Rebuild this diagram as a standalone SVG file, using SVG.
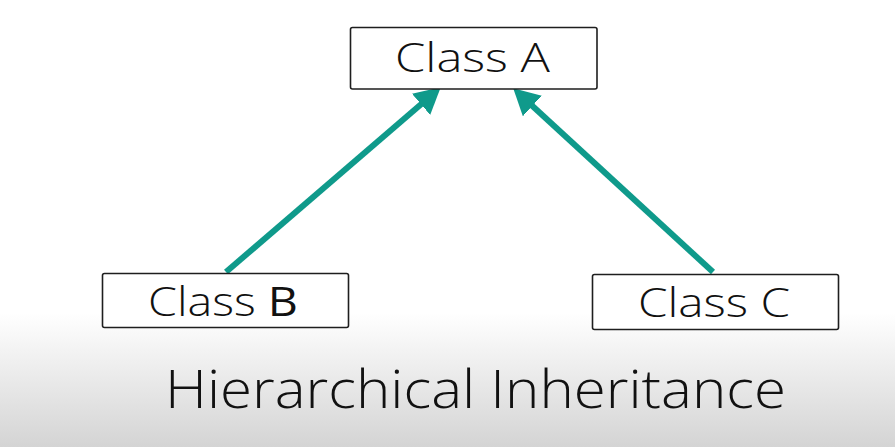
<svg xmlns="http://www.w3.org/2000/svg" width="895" height="447" viewBox="0 0 895 447">
  <defs>
    <linearGradient id="bg" gradientUnits="userSpaceOnUse" x1="0" y1="0" x2="0" y2="447">
      <stop offset="0.70" stop-color="#ffffff"/>
      <stop offset="1" stop-color="#d4d4d4"/>
    </linearGradient>
    <marker id="head" markerUnits="userSpaceOnUse" viewBox="0 0 26 28" refX="15" refY="14" markerWidth="26" markerHeight="28" orient="auto">
      <path d="M0,0 L26,14 L0,28 z" fill="#0f9a8b"/>
    </marker>
  </defs>
  <style>
    .box { fill: #ffffff; stroke: #1e1e1e; stroke-width: 1.6; }
    .label { font-family: "Open Sans", "Liberation Sans", sans-serif; font-size: 41px; font-weight: 300; fill: #111111; text-anchor: middle; }
    .title { font-family: "Open Sans", "Liberation Sans", sans-serif; font-size: 53px; font-weight: 300; fill: #111111; text-anchor: middle; }
    .edge { stroke: #0f9a8b; stroke-width: 6; fill: none; }
  </style>
  <rect x="0" y="0" width="895" height="447" fill="url(#bg)"/>
  <g id="connectors">
    <line class="edge" x1="226" y1="272" x2="432.4" y2="94.5" marker-end="url(#head)"/>
    <line class="edge" x1="713" y1="272" x2="521.3" y2="95.8" marker-end="url(#head)"/>
  </g>
  <g id="classA">
    <rect class="box" x="350.5" y="27.5" width="246.5" height="61.5" rx="2"/>
    <text class="label" x="472.5" y="72" textLength="155" lengthAdjust="spacingAndGlyphs">Class A</text>
  </g>
  <g id="classB">
    <rect class="box" x="102.5" y="273.5" width="246" height="54" rx="2"/>
    <text class="label" x="223" y="316" textLength="150" lengthAdjust="spacingAndGlyphs">Class <tspan font-weight="500">B</tspan></text>
  </g>
  <g id="classC">
    <rect class="box" x="592.5" y="274.5" width="246" height="55" rx="2"/>
    <text class="label" x="714" y="317" textLength="152" lengthAdjust="spacingAndGlyphs">Class C</text>
  </g>
  <text class="title" x="475.5" y="408" textLength="621" lengthAdjust="spacingAndGlyphs">Hierarchical Inheritance</text>
</svg>
